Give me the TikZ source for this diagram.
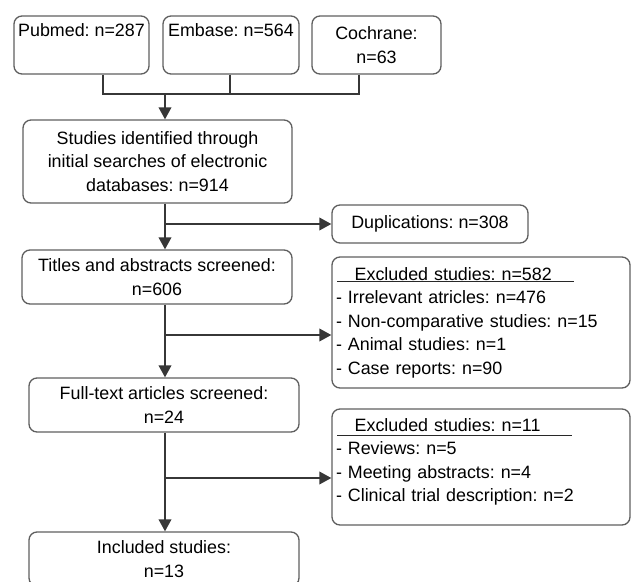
\documentclass[tikz,border=0pt]{standalone}
\usepackage{fontspec}
\setmainfont{Liberation Sans}
\usetikzlibrary{arrows.meta}

\begin{document}
\begin{tikzpicture}[x=0.75pt,y=0.75pt,yscale=-1,xscale=1,
  box/.style={draw, color={rgb, 255:red, 95; green, 95; blue, 95 }, line width=1pt, rounded corners=6pt,
    text=black, align=center, inner sep=2pt, font=\fontsize{13.4}{17.6}\selectfont\frenchspacing},
  lbox/.style={box, align=left, inner xsep=3pt},
  conn/.style={draw, color={rgb, 255:red, 55; green, 55; blue, 55 }, line width=1.3pt},
  arr/.style={conn, -{Triangle[width=9.5pt,length=9pt]}},
  uline/.style={draw, color={rgb, 255:red, 40; green, 40; blue, 40 }, line width=0.9pt}]
%set diagram left start at 0, width 632 and height 582
\useasboundingbox (0,0) rectangle (632,582);

%Rounded Rect: databases
\node[box, minimum width=101.25pt, minimum height=43.5pt] (pub) at (81.5,45) {Pubmed: n=287\\ \strut};
\node[box, minimum width=102pt, minimum height=43.5pt] (emb) at (231,45) {Embase: n=564\\ \strut};
\node[box, minimum width=96.75pt, minimum height=43.5pt] (coch) at (376.5,45) {Cochrane:\\ n=63};

%Rounded Rect: main column
\node[box, minimum width=201.75pt, minimum height=62.25pt] (stud) at (157.5,161.5) {Studies identified through\\ initial searches of electronic\\ databases: n=914};
\node[box, minimum width=202.5pt, minimum height=40.5pt] (tit) at (157,277) {Titles and abstracts screened:\\ n=606};
\node[box, minimum width=202.5pt, minimum height=40.5pt] (full) at (164,405) {Full-text articles screened:\\ n=24};
\node[box, minimum width=202.5pt, minimum height=40.5pt] (incl) at (164,559) {Included studies:\\ n=13};

%Rounded Rect: exclusions
\node[box, minimum width=147pt, minimum height=28.5pt] (dup) at (430,224) {Duplications: n=308};
\node[lbox, minimum width=223.5pt, minimum height=98.25pt, text width=217.5pt] (exc1) at (481,322.5) {\hspace*{14pt}Excluded studies: n=582\\
- Irrelevant atricles: n=476\\
- Non-comparative studies: n=15\\
- Animal studies: n=1\\
- Case reports: n=90};
\node[lbox, minimum width=223.5pt, minimum height=87pt, text width=217.5pt] (exc2) at (481,467) {\hspace*{14pt}Excluded studies: n=11\\
- Reviews: n=5\\
- Meeting abstracts: n=4\\
- Clinical trial description: n=2\\[-7pt] \mbox{}};

%Straight Lines: headings underlined
\draw[uline] ([shift={(6,25)}]exc1.north west) -- ([shift={(243,25)}]exc1.north west);
\draw[uline] ([shift={(6,27)}]exc2.north west) -- ([shift={(241,27)}]exc2.north west);

%Connectors
\coordinate (tk) at (165,94);
\draw[conn] (pub.south -| 103,0) |- (tk);
\draw[conn] (coch.south -| 359,0) |- (tk);
\draw[conn] (emb.south -| 230,0) -- (tk -| 230,0);
\draw[arr] (tk) -- (tk |- stud.north);
\draw[arr] (tk |- stud.south) -- (tk |- tit.north);
\draw[arr] (tk |- tit.south) -- (tk |- full.north);
\draw[arr] (tk |- full.south) -- (tk |- incl.north);
\draw[arr] (tk |- dup.west) -- (dup.west);
\draw[arr] (tk |- 0,335) -- (exc1.west |- 0,335);
\draw[arr] (tk |- 0,478) -- (exc2.west |- 0,478);

\end{tikzpicture}
\end{document}
